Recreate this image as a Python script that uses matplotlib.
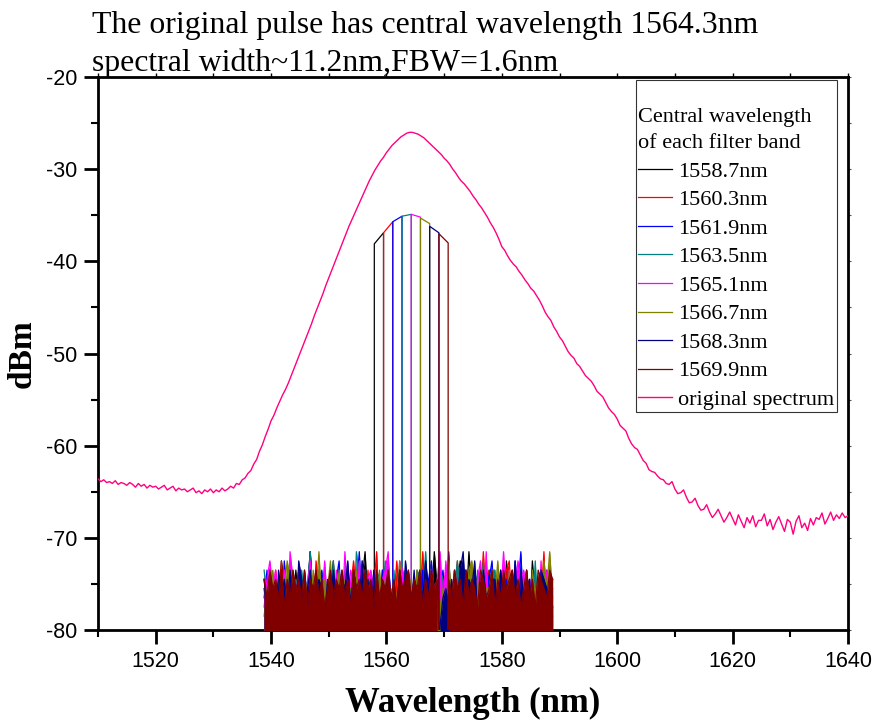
import numpy as np
import matplotlib
matplotlib.use('Agg')
import matplotlib.pyplot as plt
from matplotlib.ticker import MultipleLocator

#--Data--#
# original spectrum, sampled every 0.5 nm from 1510 nm to 1640 nm (dBm)
spec_start = 1510.0
spec_step = 0.5
spectrum = [
    -63.6, -63.9, -63.7, -64.0, -63.9, -64.1, -63.8, -64.2, -64.0, -64.1,
    -64.3, -64.0, -64.2, -64.5, -64.1, -64.4, -64.2, -64.6, -64.3, -64.5,
    -64.4, -64.7, -64.5, -64.3, -64.8, -64.6, -64.4, -64.9, -64.6, -64.8,
    -64.7, -65.0, -64.8, -64.6, -65.1, -64.9, -65.2, -64.8, -65.0, -64.7,
    -65.1, -64.8, -65.0, -64.6, -64.9, -64.7, -64.4, -64.6, -64.1, -64.2,
    -63.7, -63.5, -63.0, -62.7, -62.0, -61.5, -60.6, -59.9, -59.0, -58.2,
    -57.3, -56.7, -55.9, -55.2, -54.5, -53.9, -53.2, -52.4, -51.6, -50.8,
    -50.0, -49.2, -48.4, -47.6, -46.8, -45.9, -45.1, -44.3, -43.5, -42.6,
    -41.8, -41.0, -40.2, -39.4, -38.6, -37.8, -37.0, -36.2, -35.5, -34.8,
    -34.1, -33.4, -32.7, -32.0, -31.3, -30.7, -30.1, -29.6, -29.1, -28.7,
    -28.2, -27.8, -27.4, -27.1, -26.8, -26.5, -26.3, -26.1, -26.0, -26.0,
    -26.1, -26.2, -26.4, -26.6, -26.9, -27.2, -27.5, -27.8, -28.1, -28.4,
    -28.8, -29.1, -29.5, -30.0, -30.4, -30.9, -31.3, -31.6, -32.0, -32.4,
    -32.9, -33.3, -33.8, -34.2, -34.7, -35.2, -35.8, -36.3, -36.9, -37.6,
    -38.4, -38.8, -39.4, -39.9, -40.3, -40.6, -41.1, -41.5, -42.0, -42.4,
    -42.9, -43.2, -43.7, -44.2, -44.8, -45.5, -46.0, -46.4, -47.1, -47.6,
    -48.2, -48.6, -49.2, -49.8, -50.2, -50.5, -51.1, -51.4, -51.9, -52.4,
    -52.7, -53.0, -53.5, -54.1, -54.4, -54.7, -55.3, -55.9, -56.3, -56.6,
    -57.1, -57.8, -58.1, -58.4, -59.2, -59.8, -60.2, -60.4, -61.0, -61.6,
    -61.9, -62.6, -62.8, -62.9, -63.3, -63.6, -63.7, -64.1, -64.2, -63.9,
    -64.7, -65.2, -65.1, -64.8, -65.6, -66.2, -66.1, -65.7, -66.5, -67.0,
    -66.9, -66.4, -67.2, -67.8, -67.4, -66.9, -67.6, -68.3, -67.8, -67.2,
    -67.9, -68.6, -67.5, -68.2, -68.9, -67.8, -68.4, -67.6, -68.8, -68.1,
    -68.1, -67.4, -68.7, -68.0, -69.1, -68.3, -67.7, -68.5, -69.3, -68.0,
    -68.3, -69.6, -68.2, -67.6, -68.9, -68.4, -69.2, -67.9, -68.6, -67.8,
    -68.0, -67.3, -68.5, -67.9, -67.2, -68.1, -67.5, -67.9, -67.3, -67.8,
    -67.6,
]

# filter bands (FBW = 1.6 nm)
filter_labels = ['1558.7nm', '1560.3nm', '1561.9nm', '1563.5nm',
                 '1565.1nm', '1566.7nm', '1568.3nm', '1569.9nm']
filter_centers = [1558.7, 1560.3, 1561.9, 1563.5, 1565.1, 1566.7, 1568.3, 1569.9]
band_left_top = [-38.1, -36.9, -35.7, -35.1, -34.9, -35.3, -36.2, -37.0]
band_right_top = [-36.9, -35.7, -35.1, -34.9, -35.2, -35.9, -36.9, -38.0]
filter_colors = ['#000000', '#ff0000', '#0000ff', '#008080',
                 '#ff00ff', '#808000', '#000080', '#800000']

# out-of-band noise floor of each filtered trace, every 0.5 nm from 1538.8 nm
# one digit per sample, level = -79.5 + digit (dBm)
noise_start = 1538.8
noise_step = 0.5
noise_digits = [
    ("4162537405" "2615348261" "5304716253" "1463582430" "5726143605"
     "3145627038" "4625130574" "2836415263" "0541736254" "3617250463" "5"),
    ("5243617052" "3460528174" "2615043625" "4731526048" "1654237150"
     "6425381460" "2536104725" "4160538261" "5324670153" "4625143806" "2"),
    ("3605241736" "4152638045" "6231457026" "3548162405" "2617350846"
     "5130462571" "3462805136" "6015342657" "2460531748" "1536420615" "4"),
    ("6341502647" "1536248053" "4602715364" "2185364026" "5374160253"
     "4026538164" "1653024735" "3542617046" "6205143562" "4351706524" "1"),
    ("2574613608" "5361247256" "3725064183" "6417235640" "3568142765"
     "1643725064" "5827136452" "3164572806" "4538261475" "6352407163" "5"),
    ("1436250475" "6023541638" "2547036152" "4360725341" "6251403726"
     "3506241853" "5241736025" "1673502446" "3725164053" "2406351748" "3"),
    ("5214063526" "3075146235" "4152630547" "2643715062" "1536042617"
     "4261537405" "6034251368" "2547106325" "5163042716" "3450216543" "2"),
    ("5364536253" "6453625463" "5246354635" "2645364526" "3546352645"
     "6354625364" "5462536452" "6354265346" "2536456352" "4635265436" "5"),
]

#--Plot--#
plt.rcParams['font.family'] = 'Liberation Sans'
plt.rcParams['axes.unicode_minus'] = False
fig = plt.figure(figsize=(8.77, 7.22), dpi=100)
ax = fig.add_axes([0.1117, 0.1274, 0.8552, 0.7659])

handles = []
for i in range(len(filter_centers)):
    c = filter_centers[i]
    col = filter_colors[i]
    nx = noise_start + noise_step * np.arange(len(noise_digits[i]))
    ny = -79.5 + np.array([int(d) for d in noise_digits[i]], dtype=float)
    lo = nx < c - 0.8
    hi = nx > c + 0.8
    x = np.concatenate([nx[lo], [c - 0.8, c - 0.8, c + 0.8, c + 0.8], nx[hi]])
    y = np.concatenate([ny[lo], [-81, band_left_top[i], band_right_top[i], -81], ny[hi]])
    ax.fill_between(nx[lo], -81, ny[lo], color=col, lw=0, zorder=2 + i)
    ax.fill_between(nx[hi], -81, ny[hi], color=col, lw=0, zorder=2 + i)
    line, = ax.plot(x, y, color=col, lw=0.9, zorder=2 + i, label=filter_labels[i])
    handles.append(line)

spec_x = spec_start + spec_step * np.arange(len(spectrum))
line, = ax.plot(spec_x, spectrum, color='#ff0080', lw=1.0, zorder=20,
                label='original spectrum')
handles.append(line)

ax.set_xlim(1510, 1640)
ax.set_ylim(-80, -20)

ax.xaxis.set_major_locator(MultipleLocator(20))
ax.xaxis.set_minor_locator(MultipleLocator(10))
ax.yaxis.set_major_locator(MultipleLocator(10))
ax.yaxis.set_minor_locator(MultipleLocator(5))
ax.tick_params(which='major', direction='out', length=10, width=2,
               labelsize=15.5, pad=5)
ax.tick_params(which='minor', direction='out', length=5, width=1.5)
for s in ax.spines.values():
    s.set_linewidth(2)

# small ticks on top and right
top = ax.secondary_xaxis('top')
top.xaxis.set_major_locator(MultipleLocator(10))
top.tick_params(length=3, width=1, labeltop=False)
right = ax.secondary_yaxis('right')
right.yaxis.set_major_locator(MultipleLocator(5))
right.tick_params(length=2, width=0.8, colors='#555555', labelright=False)
right.spines['right'].set_color('black')

ax.set_xlabel('Wavelength (nm)', fontsize=25, fontweight='bold',
              family='Liberation Serif', labelpad=11)
ax.set_ylabel('dBm', fontsize=24, fontweight='bold',
              family='Liberation Serif', labelpad=6)

fig.text(0.105, 0.954, 'The original pulse has central wavelength 1564.3nm',
         fontsize=22.9, family='Liberation Serif', va='baseline')
fig.text(0.105, 0.902, 'spectral width~11.2nm,FBW=1.6nm',
         fontsize=22.9, family='Liberation Serif', va='baseline')

leg = ax.legend(handles=handles, loc='upper right', bbox_to_anchor=(0.985, 0.995),
                title='\nCentral wavelength\nof each filter band', alignment='left',
                prop={'family': 'Liberation Serif', 'size': 16},
                title_fontproperties={'family': 'Liberation Serif', 'size': 16},
                frameon=True, fancybox=False, edgecolor='black', borderpad=0.1,
                borderaxespad=0, handlelength=1.5, handletextpad=0.3,
                labelspacing=0.36)
leg.get_title().set_linespacing(1.5)
leg.get_frame().set_linewidth(0.8)
leg.set_zorder(30)

fig.savefig('out.png', dpi=100)
